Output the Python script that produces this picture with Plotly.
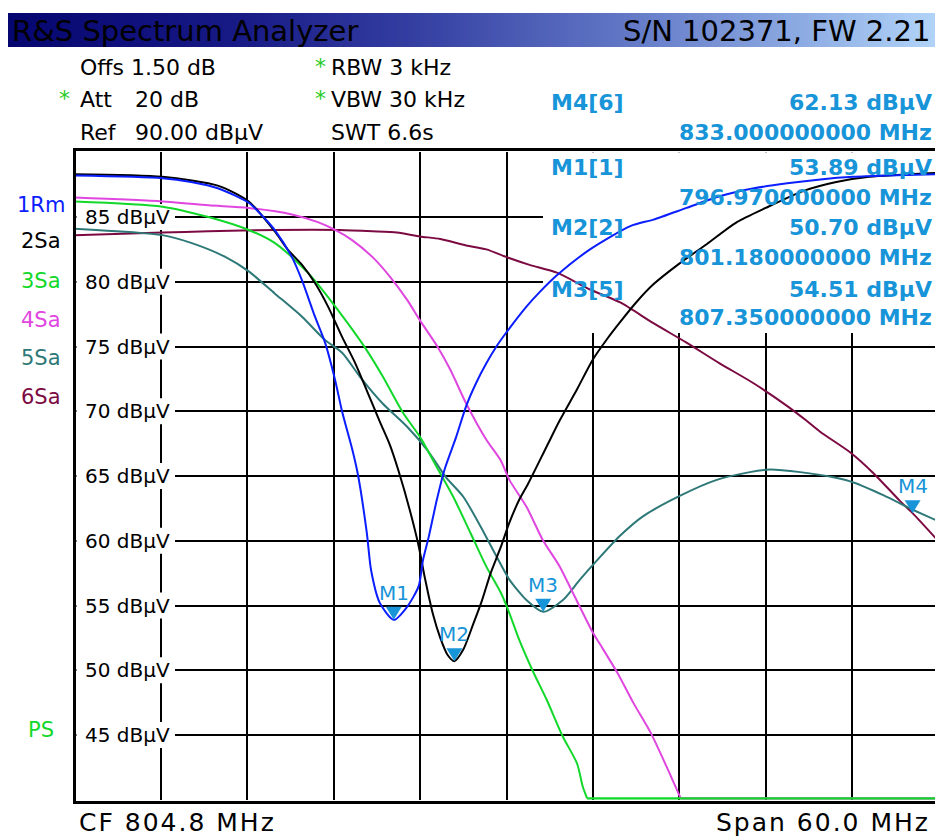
import plotly.graph_objects as go

# ---------------- data ----------------
center_mhz = 804.8
span_mhz = 60.0
ref_level = 90.0
y_ticks = [45, 50, 55, 60, 65, 70, 75, 80, 85]
y_tick_text = ["45 dBµV", "50 dBµV", "55 dBµV", "60 dBµV", "65 dBµV",
               "70 dBµV", "75 dBµV", "80 dBµV", "85 dBµV"]
x_grid = [780.8, 786.8, 792.8, 798.8, 804.8, 810.8, 816.8, 822.8, 828.8]

# Trace 1 (1Rm, blue)
t1_f = [774.8, 780.9, 782.9, 784.8, 786.9, 788.0, 788.7, 789.9, 790.6, 791.5,
        792.2, 792.9, 793.4, 794.1, 794.5, 795.1, 795.4, 796.0, 796.97, 797.9,
        798.7, 799.0, 799.4, 799.95, 800.5, 801.3, 802.0, 802.7, 803.4, 804.1,
        804.8, 806.2, 807.1, 808.3, 810.6, 813.4, 815.0, 817.3, 819.6, 821.9,
        824.3, 826.6, 828.9, 831.2, 834.6]
t1_db = [88.2, 88.0, 87.7, 87.2, 86.1, 84.9, 84.0, 81.9, 80.1, 77.3,
         75.3, 72.4, 69.9, 67.0, 65.0, 60.6, 57.7, 55.2, 53.89, 54.9,
         56.5, 58.5, 60.3, 63.1, 65.5, 68.0, 70.4, 72.2, 73.7, 75.0,
         76.1, 78.1, 79.2, 80.5, 82.5, 84.3, 84.8, 85.7, 86.6, 87.2,
         87.6, 87.9, 88.1, 88.2, 88.3]

# Trace 2 (2Sa, black)
t2_f = [774.8, 780.9, 784.8, 786.9, 788.7, 789.6, 790.6, 791.5, 792.4, 793.4,
        794.3, 795.1, 796.0, 796.7, 797.3, 798.1, 798.7, 799.1, 799.7, 800.2,
        800.7, 801.18, 801.8, 802.5, 803.1, 803.7, 804.4, 805.0, 805.7, 806.3,
        807.6, 808.5, 809.7, 810.8, 811.8, 812.7, 813.8, 815.0, 816.8, 818.7,
        820.8, 822.8, 825.4, 827.7, 830.0, 834.6]
t2_db = [88.3, 88.1, 87.4, 86.2, 83.9, 82.5, 81.3, 79.9, 78.1, 75.7,
         73.7, 71.6, 69.2, 67.4, 65.4, 62.3, 59.6, 57.3, 54.3, 52.5,
         51.2, 50.70, 51.6, 53.6, 55.4, 57.5, 59.5, 61.4, 63.2, 64.4,
         67.3, 69.3, 71.7, 74.0, 75.6, 76.9, 78.4, 79.8, 81.4, 82.9,
         84.6, 85.7, 87.0, 87.7, 88.1, 88.4]

# Trace 3 (3Sa, green)
t3_f = [774.8, 780.9, 784.1, 786.9, 788.7, 789.9, 791.0, 792.0, 792.9, 794.1,
        795.1, 796.2, 797.6, 798.8, 800.0, 801.1, 802.3, 803.4, 804.4, 804.9,
        805.7, 806.6, 807.6, 808.7, 809.7, 810.1, 810.4, 834.8]
t3_db = [86.2, 85.8, 85.0, 84.0, 83.0, 81.9, 80.7, 79.4, 78.1, 76.3,
         74.7, 72.7, 69.9, 68.0, 65.6, 63.4, 60.6, 58.0, 56.0, 54.7,
         52.3, 50.0, 47.7, 44.9, 42.8, 41.0, 40.1, 40.1]

# Trace 4 (4Sa, magenta)
t4_f = [774.8, 780.9, 784.1, 786.9, 789.9, 791.7, 792.9, 794.1, 795.5, 796.7,
        797.9, 798.8, 800.0, 800.9, 802.0, 803.4, 804.4, 805.0, 806.2, 807.3,
        808.5, 809.4, 810.8, 811.3, 812.5, 813.6, 814.8, 815.9, 816.9, 834.8]
t4_db = [86.5, 86.2, 85.9, 85.7, 85.2, 84.6, 84.0, 83.2, 81.9, 80.4,
         78.6, 77.0, 75.0, 73.2, 70.6, 67.8, 66.2, 64.7, 62.6, 60.1,
         58.0, 56.0, 52.9, 52.0, 49.8, 47.5, 45.2, 42.6, 40.1, 40.1]

# Trace 5 (5Sa, teal)
t5_f = [774.8, 780.9, 782.9, 785.3, 786.9, 788.7, 790.6, 792.2, 793.4, 794.6,
        796.2, 797.9, 799.3, 800.6, 801.8, 803.0, 804.1, 805.0, 806.2, 807.35,
        808.7, 809.9, 811.1, 812.7, 814.3, 816.9, 819.4, 821.7, 823.1, 825.2,
        827.5, 828.9, 831.0, 833.0, 834.6]
t5_db = [84.1, 83.6, 83.0, 81.9, 80.8, 79.1, 77.3, 75.5, 74.5, 72.7,
         70.6, 68.8, 67.0, 64.9, 63.4, 61.1, 58.8, 57.0, 55.4, 54.51,
         55.4, 57.0, 58.5, 60.4, 61.9, 63.5, 64.7, 65.3, 65.5, 65.3,
         64.9, 64.5, 63.5, 62.4, 61.6]

# Trace 6 (6Sa, maroon)
t6_f = [774.8, 780.9, 784.1, 788.7, 793.2, 795.5, 797.2, 798.8, 800.2, 802.0,
        803.4, 804.8, 806.4, 808.3, 810.6, 812.7, 815.0, 817.3, 819.6, 821.9,
        824.3, 825.6, 826.6, 828.7, 830.3, 832.1, 833.0, 834.6]
t6_db = [83.6, 83.8, 83.9, 84.0, 84.0, 83.9, 83.8, 83.5, 83.3, 82.8,
         82.5, 81.9, 81.3, 80.7, 79.4, 78.4, 76.8, 75.3, 73.7, 72.2,
         70.4, 69.3, 68.4, 66.8, 65.2, 63.1, 62.13, 60.2]

trace_names = ["1Rm", "2Sa", "3Sa", "4Sa", "5Sa", "6Sa"]
trace_colors = ["#0a1eff", "#000000", "#12d82a", "#e046e0", "#2e7878", "#7c0a42"]

marker_names = ["M1", "M2", "M3", "M4"]
marker_traces = [1, 2, 5, 6]
marker_f = [796.97, 801.18, 807.35, 833.0]
marker_db = [53.89, 50.70, 54.51, 62.13]

# ---------------- geometry helpers ----------------
W, H = 935, 836
PLOT_L = 74.5          # left edge of the diagram (px)
PLOT_FULL_W = 864.0    # full 10-division width (px), right part is cut by the window
Y_TOP_PX, Y_BOT_PX = 152.25, 799.75
Y_MIN = 40.0


def px(x):
    return x / W


def py(y):
    return 1 - y / H


f_start = center_mhz - span_mhz / 2
f_visible_end = f_start + span_mhz * (W - PLOT_L) / PLOT_FULL_W

MK = "#1894d8"
FONT = "DejaVu Sans"

fig = go.Figure()

traces = [(t1_f, t1_db), (t2_f, t2_db), (t3_f, t3_db),
          (t4_f, t4_db), (t5_f, t5_db), (t6_f, t6_db)]
for i in [5, 4, 3, 2, 1, 0]:
    f, d = traces[i]
    assert len(f) == len(d)
    floor = min(d)
    k = d.index(floor)
    has_floor = (k < len(d) - 1 and d[-1] == floor)
    end = k + 1 if has_floor else len(d)
    fig.add_trace(go.Scatter(x=f[:end], y=d[:end], mode="lines", name=trace_names[i],
                             line=dict(color=trace_colors[i], width=2,
                                       shape="spline", smoothing=0.7),
                             hoverinfo="skip"))
    if has_floor:
        fig.add_trace(go.Scatter(x=f[k:], y=d[k:], mode="lines", name=trace_names[i],
                                 line=dict(color=trace_colors[i], width=2.5),
                                 hoverinfo="skip"))

shapes = []

# header gradient bar
stops = [(0.0, (6, 6, 112)), (0.25, (24, 26, 134)), (0.45, (55, 66, 164)),
         (0.65, (95, 116, 196)), (0.85, (140, 170, 226)), (1.0, (178, 212, 248))]


def grad(t):
    for (t0, c0), (t1, c1) in zip(stops[:-1], stops[1:]):
        if t <= t1:
            u = (t - t0) / (t1 - t0)
            return "rgb(%d,%d,%d)" % tuple(round(a + (b - a) * u) for a, b in zip(c0, c1))
    return "rgb(%d,%d,%d)" % stops[-1][1]


bx0, bx1, step = 8, 935, 4
x = bx0
while x < bx1:
    t = (x - bx0) / (bx1 - bx0)
    shapes.append(dict(type="rect", xref="paper", yref="paper",
                       x0=px(x), x1=px(min(x + step + 1, bx1)), y0=py(47), y1=py(13),
                       fillcolor=grad(t), line=dict(width=0), layer="below"))
    x += step

# white boxes behind y labels and marker table (above grid, under traces)
for v in y_ticks:
    shapes.append(dict(type="rect", xref="x", yref="y",
                       xsizemode="pixel", ysizemode="pixel",
                       xanchor=f_start, yanchor=v,
                       x0=2, x1=175 - PLOT_L, y0=-13, y1=13,
                       fillcolor="white", line=dict(width=0), layer="between"))
shapes.append(dict(type="rect", xref="x", yref="y",
                   xsizemode="pixel", ysizemode="pixel",
                   xanchor=f_start, yanchor=ref_level,
                   x0=543 - PLOT_L, x1=W - PLOT_L + 5,
                   y0=Y_TOP_PX - 333, y1=Y_TOP_PX - 151,
                   fillcolor="white", line=dict(width=0), layer="between"))

# frame
shapes.append(dict(type="line", xref="paper", yref="paper", x0=px(74.5), x1=px(74.5),
                   y0=py(803), y1=py(148), line=dict(color="black", width=3), layer="above"))
shapes.append(dict(type="line", xref="paper", yref="paper", x0=px(73), x1=1,
                   y0=py(149.5), y1=py(149.5), line=dict(color="black", width=3), layer="above"))
shapes.append(dict(type="line", xref="paper", yref="paper", x0=px(73), x1=1,
                   y0=py(802.5), y1=py(802.5), line=dict(color="black", width=3), layer="above"))

# marker triangles
for f, v in zip(marker_f, marker_db):
    shapes.append(dict(type="path", xref="x", yref="y", xsizemode="pixel", ysizemode="pixel",
                       xanchor=f, yanchor=v, path="M -8 13 L 8 13 L 0 0 Z",
                       fillcolor=MK, line=dict(width=0), layer="above"))

ann = []


def text(xp, yp, s, size, color="black", anchor="left", bold=False, family=FONT):
    ann.append(dict(xref="paper", yref="paper", x=px(xp), y=py(yp), text=s,
                    showarrow=False, xanchor=anchor, yanchor="middle",
                    font=dict(family=family, size=size, color=color,
                              weight="bold" if bold else "normal")))


# header
text(10, 31, "R&S Spectrum Analyzer", 29, "black")
text(932, 31, "S/N 102371, FW 2.21", 29, "black", anchor="right")

# settings
GS = "#22cc22"
text(78, 68, "Offs 1.50 dB", 22)
text(78, 100, "Att", 22)
text(133, 100, "20 dB", 22)
text(78, 132, "Ref", 22)
text(133, 132, "90.00 dBµV", 22)
text(57, 98, "*", 22, GS)
text(313, 66, "*", 22, GS)
text(313, 98, "*", 22, GS)
text(329, 68, "RBW 3 kHz", 22)
text(329, 100, "VBW 30 kHz", 22)
text(329, 132, "SWT 6.6s", 22)

# marker table
rows = [(3, 102, 132), (0, 168, 197), (1, 228, 257), (2, 289, 317)]
for idx, y1, y2 in rows:
    text(549, y1, "%s[%d]" % (marker_names[idx], marker_traces[idx]), 22, MK, bold=True)
    text(934, y1, "%.2f dBµV" % marker_db[idx], 22, MK, anchor="right", bold=True)
    text(934, y2, "%.9f MHz" % marker_f[idx], 22, MK, anchor="right", bold=True)

# trace labels
label_y = [205, 241, 281, 320, 358, 397]
for name, col, yy in zip(trace_names, trace_colors, label_y):
    text(41, yy, name, 21, col, anchor="center")
text(41, 730, "PS", 21, trace_colors[2], anchor="center")

# y tick labels
for v, s in zip(y_ticks, y_tick_text):
    ann.append(dict(xref="paper", yref="y", x=px(172), y=v, text=s, showarrow=False,
                    xanchor="right", yanchor="middle",
                    font=dict(family=FONT, size=20, color="black")))

# marker labels
for name, f, v in zip(marker_names, marker_f, marker_db):
    ann.append(dict(xref="x", yref="y", x=f, y=v, yshift=27, text=name, showarrow=False,
                    xanchor="center", yanchor="middle",
                    font=dict(family=FONT, size=20, color=MK)))

# footer
text(77, 822, '<span style="letter-spacing:2px">CF %.1f MHz</span>' % center_mhz, 25)
text(932, 822, '<span style="letter-spacing:2px">Span %.1f MHz</span>' % span_mhz, 25,
     anchor="right")

fig.update_layout(
    width=W, height=H, margin=dict(l=0, r=0, t=0, b=0, pad=0),
    paper_bgcolor="white", plot_bgcolor="white", showlegend=False,
    xaxis=dict(domain=[px(PLOT_L), 1], range=[f_start, f_visible_end],
               tickvals=x_grid, showticklabels=False, ticks="",
               showgrid=True, gridcolor="black", gridwidth=2,
               zeroline=False, showline=False, fixedrange=True),
    yaxis=dict(domain=[py(Y_BOT_PX), py(Y_TOP_PX)], range=[Y_MIN, ref_level],
               tickvals=y_ticks, showticklabels=False, ticks="",
               showgrid=True, gridcolor="black", gridwidth=2,
               zeroline=False, showline=False, fixedrange=True),
    shapes=shapes, annotations=ann,
)

fig.write_html("out.html")
